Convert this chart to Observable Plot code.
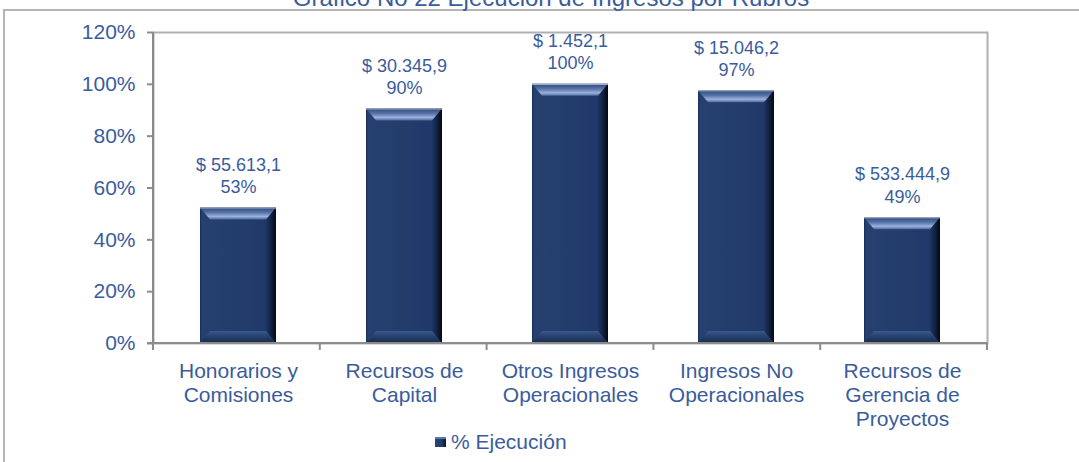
<!DOCTYPE html>
<html><head><meta charset="utf-8">
<script src="https://cdn.jsdelivr.net/npm/d3@7"></script>
<script src="https://cdn.jsdelivr.net/npm/@observablehq/plot@0.6"></script>
<style>
html,body{margin:0;padding:0;background:#fff;}
body{width:1079px;height:462px;position:relative;overflow:hidden;font-family:"Liberation Sans",Arial,sans-serif;}
#frameTop{position:absolute;left:4px;top:9px;right:0;border-top:2px solid #b5b5b5;}
#frameLeft{position:absolute;left:3px;top:9px;bottom:0;border-left:2px solid #b5b5b5;}
#title{position:absolute;left:0;width:1102px;top:-14px;text-align:center;font-size:24px;line-height:24px;color:#3a5c9c;white-space:nowrap;}
#chart{position:absolute;left:0;top:0;}
#legend{position:absolute;left:435px;top:430px;font-size:21px;line-height:24px;color:#3a5c9c;display:flex;align-items:center;white-space:nowrap;}
#legend .sw{width:11px;height:10px;margin-right:5px;background:linear-gradient(90deg,#2a4676 0%,#223c6a 60%,#0b1529 100%);box-shadow:inset 0 2px 0 #5d78a8;}
</style>
</head>
<body>
<div id="frameTop"></div>
<div id="frameLeft"></div>
<div id="chart"></div>
<div id="title"></div>
<div id="legend"><span class="sw"></span><span id="legendText"></span></div>
<script>
const titleText = "Gráfico No 22 Ejecución de Ingresos por Rubros";
const seriesName = "% Ejecución";
const categories = ["Honorarios y\nComisiones", "Recursos de\nCapital", "Otros Ingresos\nOperacionales", "Ingresos No\nOperacionales", "Recursos de\nGerencia de\nProyectos"];
const ejecucion = [0.523, 0.905, 1.0, 0.975, 0.485];
const pctLabels = ["53%", "90%", "100%", "97%", "49%"];
const amountLabels = ["$ 55.613,1", "$ 30.345,9", "$ 1.452,1", "$ 15.046,2", "$ 533.444,9"];
const yTicks = [0, 0.2, 0.4, 0.6, 0.8, 1.0, 1.2];

const data = categories.map((c, i) => ({cat: c, v: ejecucion[i], label: amountLabels[i] + "\n" + pctLabels[i]}));

document.getElementById("title").textContent = titleText;
document.getElementById("legendText").textContent = seriesName;

const textColor = "#3a5c9c";

function bevels(index, scales, values, dimensions) {
  const g = d3.create("svg:g");
  const x = scales.x, y = scales.y, bw = x.bandwidth();
  for (const d of data) {
    const x0 = x(d.cat), x1 = x0 + bw, t = y(d.v), b = y(0);
    const s = 10, h = 12;
    g.append("polygon")
      .attr("points", [[x0, t], [x1, t], [x1 - s, t + h], [x0 + s, t + h]].map(p => p.join(",")).join(" "))
      .attr("fill", "url(#topBevel)");
    g.append("polygon")
      .attr("points", [[x0, b], [x1, b], [x1 - s, b - h], [x0 + s, b - h]].map(p => p.join(",")).join(" "))
      .attr("fill", "url(#botBevel)");
    g.append("line").attr("x1", x0).attr("x2", x1).attr("y1", t + 0.5).attr("y2", t + 0.5)
      .attr("stroke", "#b9c2d2").attr("stroke-width", 1);
  }
  return g.node();
}

function axisDecor(index, scales, values, dimensions) {
  const g = d3.create("svg:g");
  const {width, height, marginLeft, marginRight, marginTop, marginBottom} = dimensions;
  const y0 = scales.y(0);
  const n = categories.length;
  const step = (width - marginLeft - marginRight) / n;
  g.append("line").attr("x1", marginLeft).attr("x2", marginLeft).attr("y1", marginTop).attr("y2", y0)
    .attr("stroke", "#8c8c8c").attr("stroke-width", 2);
  g.append("line").attr("x1", marginLeft - 6).attr("x2", width - marginRight).attr("y1", y0).attr("y2", y0)
    .attr("stroke", "#8c8c8c").attr("stroke-width", 2);
  for (let i = 0; i <= n; i++) {
    const xx = marginLeft + i * step;
    g.append("line").attr("x1", xx).attr("x2", xx).attr("y1", y0).attr("y2", y0 + 7)
      .attr("stroke", "#8c8c8c").attr("stroke-width", 2);
  }
  return g.node();
}

const plot = Plot.plot({
  width: 1079,
  height: 462,
  marginTop: 32,
  marginBottom: 119,
  marginLeft: 153,
  marginRight: 92,
  style: {fontFamily: "'Liberation Sans', Arial, sans-serif", color: textColor, background: "transparent"},
  x: {domain: categories, paddingInner: 0.54, paddingOuter: 0.27, label: null},
  y: {domain: [0, 1.2], label: null},
  marks: [
    Plot.frame({stroke: "#b0b0b0", strokeWidth: 2}),
    Plot.barY(data, {x: "cat", y: "v", fill: "url(#barGrad)"}),
    bevels,
    axisDecor,
    Plot.axisY({ticks: yTicks, tickFormat: d => Math.round(d * 100) + "%", tickSize: 6, tickPadding: 12, fontSize: 21, stroke: "#8c8c8c", strokeWidth: 2, fill: textColor, label: null}),
    Plot.axisX({tickSize: 0, tickPadding: 17, fontSize: 21, lineHeight: 1.15, fill: textColor, label: null}),
    Plot.text(data, {x: "cat", y: "v", text: "label", lineAnchor: "bottom", dy: -15, fontSize: 18, lineHeight: 1.24, fill: textColor})
  ]
});

const svg = d3.select(plot);
const defs = svg.insert("defs", ":first-child");
const bg = defs.append("linearGradient").attr("id", "barGrad").attr("x1", 0).attr("x2", 1).attr("y1", 0).attr("y2", 0);
[[0, "#1a2f5a"], [0.03, "#26416f"], [0.5, "#233d6b"], [0.86, "#20386a"], [0.94, "#111f3d"], [1, "#04080f"]]
  .forEach(([o, c]) => bg.append("stop").attr("offset", o).attr("stop-color", c));
const tb = defs.append("linearGradient").attr("id", "topBevel").attr("x1", 0).attr("x2", 0).attr("y1", 0).attr("y2", 1);
[[0, "#2b4676"], [0.45, "#5a77ad"], [0.75, "#9db2da"], [1, "#4a679c"]]
  .forEach(([o, c]) => tb.append("stop").attr("offset", o).attr("stop-color", c));
const bb = defs.append("linearGradient").attr("id", "botBevel").attr("x1", 0).attr("x2", 0).attr("y1", 0).attr("y2", 1);
[[0, "#3a5a90"], [0.3, "#2c4878"], [1, "#18294d"]]
  .forEach(([o, c]) => bb.append("stop").attr("offset", o).attr("stop-color", c));

document.getElementById("chart").appendChild(plot);
</script>
</body></html>
